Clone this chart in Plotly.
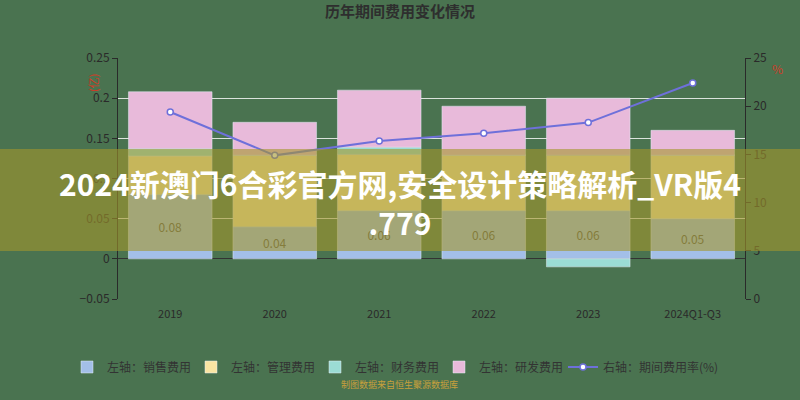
import plotly.graph_objects as go

years = ["2019", "2020", "2021", "2022", "2023", "2024Q1-Q3"]
sales = [0.08, 0.04, 0.06, 0.06, 0.06, 0.05]
mgmt = [0.048, 0.089, 0.07, 0.069, 0.069, 0.079]
finance = [0.009, 0.0, 0.009, 0.0, -0.01, 0.0]
rd = [0.071, 0.041, 0.071, 0.061, 0.071, 0.031]
rate = [19.4, 14.9, 16.4, 17.2, 18.3, 22.4]

FONT = "Noto Sans CJK SC"
BG = "rgb(74,115,80)"

fig = go.Figure()
fig.add_trace(go.Bar(x=years, y=sales, name="左轴：销售费用", marker_color="rgb(163,191,232)",
                     text=[f"{v:.2f}" for v in sales], textposition="inside",
                     insidetextanchor="middle", textfont=dict(color="#555", size=12, family=FONT)))
fig.add_trace(go.Bar(x=years, y=mgmt, name="左轴：管理费用", marker_color="rgb(250,229,162)"))
fig.add_trace(go.Bar(x=years, y=finance, name="左轴：财务费用", marker_color="rgb(155,220,212)"))
fig.add_trace(go.Bar(x=years, y=rd, name="左轴：研发费用", marker_color="rgb(232,186,218)"))
fig.add_trace(go.Scatter(x=years, y=rate, name="右轴：期间费用率(%)", yaxis="y2", mode="lines+markers",
                         legend="legend2",
                         line=dict(color="rgb(110,112,218)", width=2),
                         marker=dict(size=6, color="white", line=dict(color="rgb(110,112,218)", width=1.5))))

legend_common = dict(orientation="h", xref="container", yref="container", xanchor="left",
                     y=1 - 367 / 400, yanchor="middle",
                     font=dict(size=12, color="#333", family=FONT), bgcolor="rgba(0,0,0,0)")

fig.update_layout(
    width=800, height=400,
    paper_bgcolor=BG, plot_bgcolor=BG,
    font=dict(family=FONT, color="#2a2a2a", size=11),
    barmode="relative", bargap=0.2,
    margin=dict(l=118, r=55, t=58, b=101),
    title=dict(text="<b>历年期间费用变化情况</b>", x=0.5, xanchor="center", y=0.97, yanchor="middle",
               font=dict(size=15, color="#2e2e2e", family=FONT)),
    xaxis=dict(showgrid=False, showline=False, ticks="outside", ticklen=5, tickcolor="rgba(0,0,0,0)",
               tickfont=dict(size=11, color="#2a2a2a")),
    yaxis=dict(range=[-0.05, 0.25], dtick=0.05, showgrid=True, gridcolor="rgba(235,240,235,0.9)",
               gridwidth=1, zeroline=True, zerolinecolor="#333", zerolinewidth=1,
               showline=True, linecolor="#2a2a2a", ticks="outside", ticklen=5, tickcolor="#2a2a2a",
               tickfont=dict(size=12, color="#2a2a2a")),
    yaxis2=dict(range=[0, 25], dtick=5, overlaying="y", side="right", showgrid=False, zeroline=False,
                showline=True, linecolor="#2a2a2a", ticks="outside", ticklen=5, tickcolor="#2a2a2a",
                tickfont=dict(size=12, color="#2a2a2a")),
    legend=dict(legend_common, x=67 / 800, entrywidth=79, entrywidthmode="pixels"),
    legend2=dict(legend_common, x=563 / 800),
    showlegend=True,
)

fig.add_annotation(text="(亿)", xref="paper", yref="paper", x=(83 - 118) / 627, y=(299 - 72) / 241,
                   textangle=-90, showarrow=False, font=dict(size=11, color="rgb(205,60,40)", family=FONT))
fig.add_annotation(text="%", xref="paper", yref="paper", x=(785 - 118) / 627, y=(299 - 58) / 241,
                   showarrow=False, font=dict(size=12, color="rgb(205,60,40)", family=FONT))
fig.add_annotation(text="制图数据来自恒生聚源数据库", xref="paper", yref="paper", x=(399 - 118) / 627,
                   y=(299 - 393) / 241, showarrow=False,
                   font=dict(size=9, color="rgb(200,160,60)", family=FONT))

# watermark band and text
fig.add_shape(type="rect", xref="paper", yref="paper", x0=-0.2, x1=1.2,
              y0=(299 - 251) / 241, y1=(299 - 149) / 241, layer="above",
              fillcolor="rgba(164,150,43,0.6)", line=dict(width=0))
fig.add_annotation(text="<b>2024新澳门6合彩官方网,安全设计策略解析_VR版4<br>.779</b>",
                   xref="paper", yref="paper", align="center",
                   x=(400 - 118) / 627, y=(299 - 202) / 241, yanchor="middle", showarrow=False,
                   font=dict(size=30, color="white", family=FONT))

fig.write_html("out.html", config={"displayModeBar": False}, post_script=(
    "document.body.style.margin='0';document.body.style.overflow='hidden';"
    "document.body.style.background='rgb(74,115,80)';"))
